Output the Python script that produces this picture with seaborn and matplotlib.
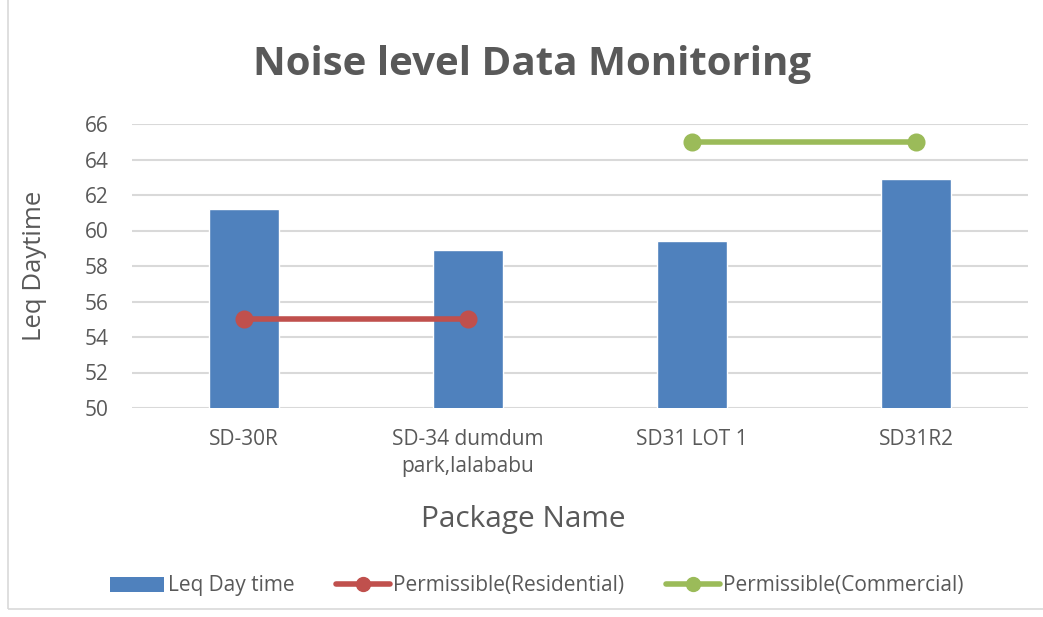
import numpy as np
import pandas as pd
import seaborn as sns
from matplotlib import pyplot as plt
from matplotlib.lines import Line2D
from matplotlib.patches import Patch, Rectangle

# data
packages = ['SD-30R', 'SD-34 dumdum\npark,lalababu', 'SD31 LOT 1', 'SD31R2']
leq_day = [61.2, 58.9, 59.4, 62.9]
perm_residential = [55, 55, np.nan, np.nan]
perm_commercial = [np.nan, np.nan, 65, 65]

blue = '#4F81BD'
red = '#C0504D'
green = '#9BBB59'
grey_txt = '#595959'

sns.set_style('white')
plt.rcParams['font.family'] = ['Open Sans', 'DejaVu Sans']

df = pd.DataFrame({'package': packages, 'leq': leq_day,
                   'res': perm_residential, 'com': perm_commercial})

fig = plt.figure(figsize=(10.43, 6.17), dpi=100)
ax = fig.add_axes([132 / 1043, 1 - 408 / 617, (1028 - 132) / 1043, (408 - 124) / 617])

sns.barplot(data=df, x='package', y='leq', color=blue, width=0.31,
            saturation=1, ax=ax, zorder=2)
sns.pointplot(data=df, x='package', y='res', color=red, errorbar=None,
              markers='o', markersize=10, linewidth=4, ax=ax, zorder=3)
sns.pointplot(data=df, x='package', y='com', color=green, errorbar=None,
              markers='o', markersize=10, linewidth=4, ax=ax, zorder=3)

ax.set_ylim(50, 66)
ax.set_xlim(-0.5, 3.5)
ax.set_yticks(np.arange(50, 67, 2))
ax.yaxis.grid(True, color='#D9D9D9', linewidth=1.5, zorder=0)
ax.set_axisbelow(True)
sns.despine(ax=ax, left=True, bottom=True)
ax.tick_params(axis='both', length=0, labelsize=15, labelcolor=grey_txt)
ax.tick_params(axis='y', pad=17)
ax.tick_params(axis='x', pad=15)
for lbl in ax.get_xticklabels():
    lbl.set_linespacing(1.4)

ax.set_xlabel('Package Name', fontsize=21.5, color=grey_txt, va='center')
ax.xaxis.set_label_coords((523 - 132) / 896, (408 - 520) / 284)
ax.set_ylabel('Leq Daytime', fontsize=18.5, color=grey_txt, va='center')
ax.yaxis.set_label_coords((35 - 132) / 896, 0.5)

fig.text(532 / 1043, 1 - 65 / 617, 'Noise level Data Monitoring', ha='center', va='center',
         fontsize=29, fontweight='bold', color=grey_txt)

handles = [Patch(facecolor=blue, edgecolor='none'),
           Line2D([0], [0], color=red, lw=4, marker='o', markersize=10),
           Line2D([0], [0], color=green, lw=4, marker='o', markersize=10)]
labels = ['Leq Day time', 'Permissible(Residential)', 'Permissible(Commercial)']
leg = fig.legend(handles, labels, loc='center', bbox_to_anchor=(537 / 1043, 1 - 586 / 617),
                 ncol=3, frameon=False, fontsize=15, handlelength=2.6, handletextpad=0.15,
                 columnspacing=2.0)
for t in leg.get_texts():
    t.set_color(grey_txt)

# chart border (left and bottom edges visible in reference)
fig.patches.append(Rectangle((8 / 1043, 8 / 617), 1.2, 1.2, transform=fig.transFigure,
                             fill=False, edgecolor='#D9D9D9', linewidth=1.2))

fig.savefig('out.png', dpi=100)
